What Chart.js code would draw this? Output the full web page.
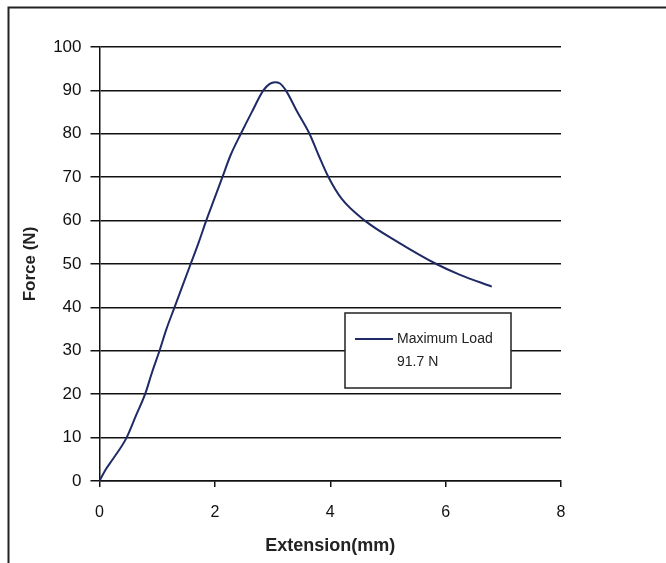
<!DOCTYPE html>
<html lang="en">
<head>
    <meta charset="UTF-8">
    <title>Force vs Extension</title>
    <script src="https://cdn.jsdelivr.net/npm/chart.js"></script>
    <style>
        body { margin: 0; background: #fff; }
        .container { width: 666px; height: 563px; }
    </style>
</head>
<body>
    <div class="container">
        <canvas id="forceChart"></canvas>
    </div>
    <script>
        // values
        const extensionMm = [0, 0.1, 0.23, 0.47, 0.63, 0.79, 0.91, 1.04, 1.16, 1.30, 1.44, 1.58, 1.72, 1.85,
            1.99, 2.13, 2.27, 2.45, 2.64, 2.84, 2.95, 3.04, 3.13, 3.23, 3.43, 3.64, 3.80, 3.97,
            4.20, 4.60, 5.18, 5.84, 6.25, 6.80];
        const forceN = [0, 2.5, 5, 10, 15, 20, 25, 30, 35, 40, 45, 50, 55, 60,
            65, 70, 75, 80, 85, 90, 91.5, 91.9, 91.6, 90, 85, 80, 75, 70,
            65, 60, 55, 50, 47.5, 44.8];
        const seriesLabel = 'Maximum Load';
        const maxLoadLabel = '91.7 N';
        const xTicks = [0, 2, 4, 6, 8];
        const yTicks = [0, 10, 20, 30, 40, 50, 60, 70, 80, 90, 100];

        const points = extensionMm.map((x, i) => ({ x: x, y: forceN[i] }));
        const lineColor = '#1f2a66';
        const fontFamily = '"Liberation Sans", Arial, sans-serif';

        // outer frame of the scanned figure
        const framePlugin = {
            id: 'frame',
            afterDraw(chart) {
                const ctx = chart.ctx;
                ctx.save();
                ctx.strokeStyle = '#222';
                ctx.lineWidth = 2;
                ctx.beginPath();
                ctx.moveTo(8.5, chart.height);
                ctx.lineTo(8.5, 7.5);
                ctx.lineTo(chart.width, 7.5);
                ctx.stroke();
                ctx.restore();
            }
        };

        // boxed legend with the maximum load note
        const loadBoxPlugin = {
            id: 'loadBox',
            afterDatasetsDraw(chart) {
                const ctx = chart.ctx;
                const left = 345, top = 313, w = 166, h = 75;
                ctx.save();
                ctx.fillStyle = '#fff';
                ctx.fillRect(left, top, w, h);
                ctx.strokeStyle = '#222';
                ctx.lineWidth = 1.5;
                ctx.strokeRect(left, top, w, h);
                ctx.strokeStyle = lineColor;
                ctx.lineWidth = 2;
                ctx.beginPath();
                ctx.moveTo(355, 339);
                ctx.lineTo(393, 339);
                ctx.stroke();
                ctx.fillStyle = '#222';
                ctx.font = '14px ' + fontFamily;
                ctx.textBaseline = 'middle';
                ctx.fillText(chart.data.datasets[0].label, 397, 339);
                ctx.fillText(maxLoadLabel, 397, 362);
                ctx.restore();
            }
        };

        const ctx = document.getElementById('forceChart').getContext('2d');
        new Chart(ctx, {
            type: 'line',
            data: {
                datasets: [{
                    label: seriesLabel,
                    data: points,
                    borderColor: lineColor,
                    borderWidth: 2,
                    pointRadius: 0,
                    cubicInterpolationMode: 'monotone',
                    fill: false
                }]
            },
            options: {
                responsive: true,
                maintainAspectRatio: false,
                animation: false,
                layout: { padding: { top: 47, right: 105, left: 0, bottom: 0 } },
                plugins: {
                    legend: { display: false },
                    tooltip: { enabled: false }
                },
                scales: {
                    x: {
                        type: 'linear',
                        min: 0,
                        max: 8,
                        afterBuildTicks: scale => { scale.ticks = xTicks.map(v => ({ value: v })); },
                        afterFit: scale => { scale.height = 82; },
                        ticks: {
                            color: '#111',
                            padding: 16,
                            font: { family: fontFamily, size: 16 }
                        },
                        grid: { drawOnChartArea: false, color: '#111', lineWidth: 1.5, tickLength: 6 },
                        border: { color: '#111', width: 1.5 },
                        title: {
                            display: true,
                            text: 'Extension(mm)',
                            color: '#222',
                            padding: { top: 0, bottom: 6 },
                            font: { family: fontFamily, size: 18, weight: 'bold' }
                        }
                    },
                    y: {
                        min: 0,
                        max: 100,
                        afterBuildTicks: scale => { scale.ticks = yTicks.map(v => ({ value: v })); },
                        afterFit: scale => { scale.width = 99.5; },
                        ticks: {
                            color: '#111',
                            padding: 9,
                            font: { family: fontFamily, size: 17 }
                        },
                        grid: { color: '#111', lineWidth: 1.5, tickLength: 9 },
                        border: { color: '#111', width: 1.5 },
                        title: {
                            display: true,
                            text: 'Force (N)',
                            color: '#222',
                            padding: { top: 20, bottom: 0 },
                            font: { family: fontFamily, size: 17, weight: 'bold' }
                        }
                    }
                }
            },
            plugins: [framePlugin, loadBoxPlugin]
        });
    </script>
</body>
</html>
